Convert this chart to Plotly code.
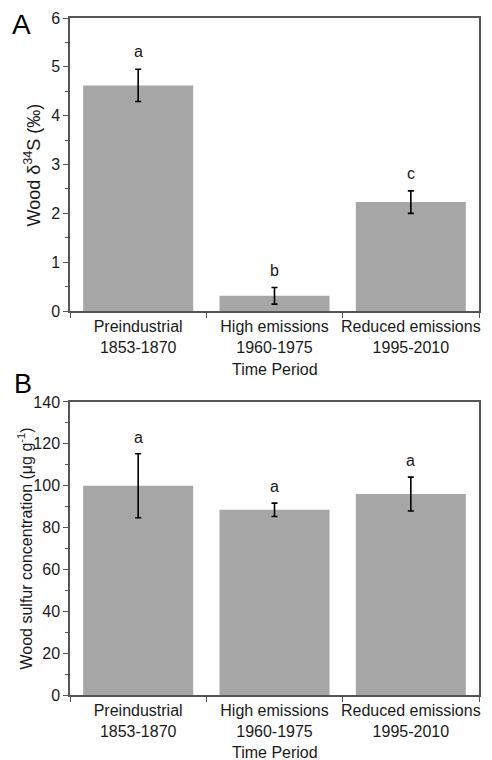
import plotly.graph_objects as go

categories = ["Preindustrial<br>1853-1870", "High emissions<br>1960-1975", "Reduced emissions<br>1995-2010"]

# Panel A: wood delta34S (permil)
d34s_values = [4.62, 0.31, 2.23]
d34s_errors = [0.33, 0.17, 0.23]
d34s_letters = ["a", "b", "c"]

# Panel B: wood sulfur concentration (ug/g)
sulfur_values = [100.0, 88.5, 96.0]
sulfur_errors = [15.3, 3.2, 8.1]
sulfur_letters = ["a", "a", "a"]

FONT = "Arial, Liberation Sans, sans-serif"
BAR = "#a6a6a6"
AX = "#555555"
TXT = "#1a1a1a"

fig = go.Figure()

fig.add_trace(go.Bar(
    x=categories, y=d34s_values, xaxis="x", yaxis="y",
    marker=dict(color=BAR, line=dict(width=0)),
    error_y=dict(type="data", array=d34s_errors, color="black", thickness=1.6, width=3),
    showlegend=False,
))
fig.add_trace(go.Bar(
    x=categories, y=sulfur_values, xaxis="x2", yaxis="y2",
    marker=dict(color=BAR, line=dict(width=0)),
    error_y=dict(type="data", array=sulfur_errors, color="black", thickness=1.6, width=3),
    showlegend=False,
))

annotations = []
for c, v, e, l in zip(categories, d34s_values, d34s_errors, d34s_letters):
    annotations.append(dict(x=c, y=v + e, xref="x", yref="y", text=l, showarrow=False,
                            yanchor="bottom", yshift=7, font=dict(family=FONT, size=16, color=TXT)))
for c, v, e, l in zip(categories, sulfur_values, sulfur_errors, sulfur_letters):
    annotations.append(dict(x=c, y=v + e, xref="x2", yref="y2", text=l, showarrow=False,
                            yanchor="bottom", yshift=6, font=dict(family=FONT, size=16, color=TXT)))

# axis titles, panel labels
annotations += [
    dict(text="Time Period", xref="x domain", yref="y domain", x=0.5, y=-0.201,
         xanchor="center", yanchor="middle", showarrow=False, font=dict(family=FONT, size=16, color=TXT)),
    dict(text="Time Period", xref="x2 domain", yref="y2 domain", x=0.5, y=-0.196,
         xanchor="center", yanchor="middle", showarrow=False, font=dict(family=FONT, size=16, color=TXT)),
    dict(text="Wood δ<sup>34</sup>S (‰)", xref="paper", yref="y domain", x=-0.0905, y=0.5,
         textangle=-90, xanchor="center", yanchor="middle", showarrow=False,
         font=dict(family=FONT, size=18, color=TXT)),
    dict(text="Wood sulfur concentration (μg g<sup>-1</sup>)", xref="paper", yref="y2 domain", x=-0.1076, y=0.5,
         textangle=-90, xanchor="center", yanchor="middle", showarrow=False,
         font=dict(family=FONT, size=16, color=TXT)),
    dict(text="A", xref="paper", yref="paper", x=-0.147, y=0.99, xanchor="left", yanchor="middle",
         showarrow=False, font=dict(family=FONT, size=28, color="black")),
    dict(text="B", xref="paper", yref="paper", x=-0.142, y=0.459, xanchor="left", yanchor="middle",
         showarrow=False, font=dict(family=FONT, size=27, color="black")),
]

xcommon = dict(type="category", showline=True, linecolor=AX, linewidth=1.5, mirror=True,
               ticks="outside", tickson="boundaries", ticklen=5, tickcolor=AX, tickwidth=1.2,
               tickangle=0, automargin=False,
               showgrid=False, zeroline=False, tickfont=dict(family=FONT, size=16, color=TXT))
ycommon = dict(showline=True, linecolor=AX, linewidth=1.5, mirror=True,
               ticks="outside", ticklen=5, tickcolor=AX, tickwidth=1.2, automargin=False,
               showgrid=False, zeroline=False, tickfont=dict(family=FONT, size=16, color=TXT))

fig.update_layout(
    width=492, height=760,
    margin=dict(l=70, r=13, t=18, b=65),
    paper_bgcolor="white", plot_bgcolor="white",
    bargap=0.193,
    xaxis=dict(anchor="y", domain=[0, 1], **xcommon),
    xaxis2=dict(anchor="y2", domain=[0, 1], **xcommon),
    yaxis=dict(anchor="x", domain=[0.5672, 1], range=[0, 6], dtick=1,
               minor=dict(dtick=0.5, ticks="outside", ticklen=3, tickcolor=AX), **ycommon),
    yaxis2=dict(anchor="x2", domain=[0, 0.4328], range=[0, 140], dtick=20,
                minor=dict(dtick=10, ticks="outside", ticklen=3, tickcolor=AX), **ycommon),
    annotations=annotations,
    font=dict(family=FONT, color=TXT),
)

fig.write_html("out.html", config={"displayModeBar": False},
               post_script="document.body.style.margin='0';document.body.style.overflow='hidden';")
